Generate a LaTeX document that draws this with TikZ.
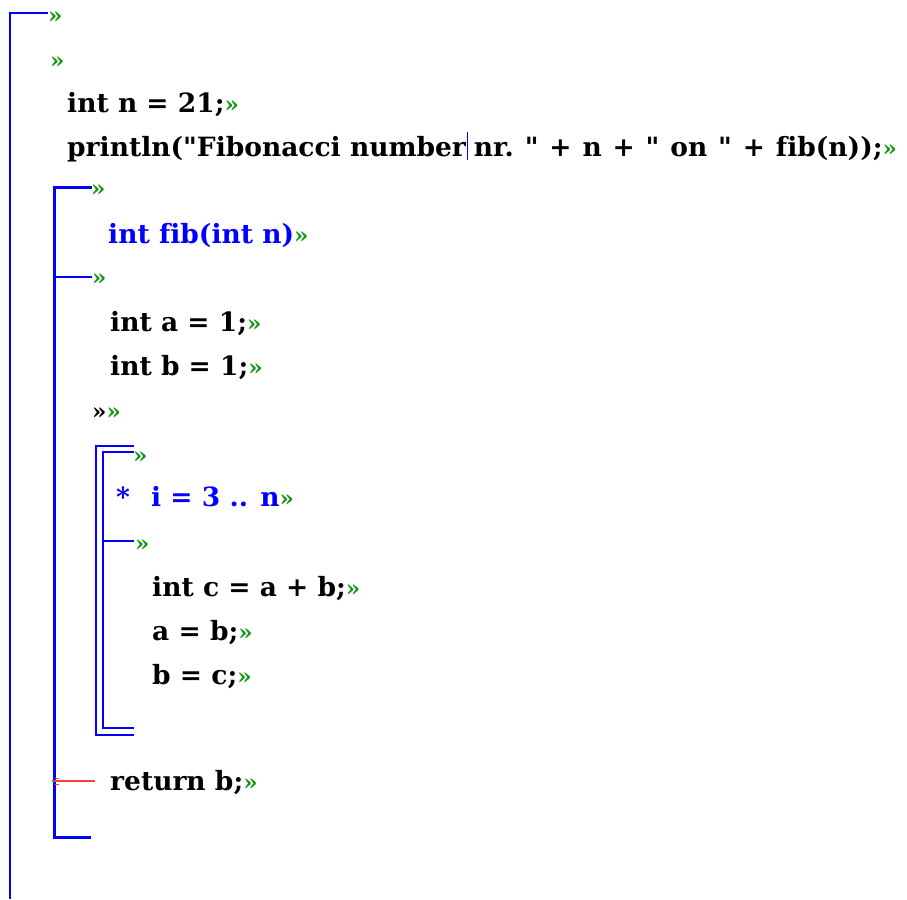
\documentclass[tikz,border=0pt]{standalone}
\usepackage{fontspec}
\setmainfont{DejaVu Serif}[Ligatures={TeXOff,NoCommon}]
\definecolor{codegreen}{RGB}{20,150,20}
\definecolor{codeblue}{RGB}{0,0,255}
\definecolor{codered}{RGB}{255,60,60}
\newcommand\grn{{\color{codegreen}\fontsize{23}{23}\selectfont\bfseries »}}
\newcommand\blk{{\color{black}\fontsize{23}{23}\selectfont\bfseries »}}
\begin{document}
\begin{tikzpicture}[x=1pt,y=-1pt,
  code/.style={anchor=base west,inner sep=0pt,font=\fontsize{26.5}{30}\selectfont\bfseries},
  gmark/.style={anchor=base west,inner sep=0pt},
  thinb/.style={draw=codeblue,line width=2pt},
  thickb/.style={draw=codeblue,line width=3pt},
  loopb/.style={draw=codeblue,line width=1.5pt}]
\useasboundingbox[fill=white] (0,0) rectangle (907,899);
% outer block
\coordinate (o1) at (48,13);
\coordinate (o2) at (10,13);
\coordinate (o3) at (10,899);
\draw[thinb] (o1) -- (o2) -- (o3);
\node[gmark] (m1) at (48,24) {\grn};
\node[gmark] (m2) at (50,68) {\grn};
\node[code] (l1) at (67,112) {int n = 21;\grn};
\node[code] (l2) at (67,156) {println("Fibonacci number\hspace{0.3em}{\spaceskip=0.41em nr.~" + n + " on " + fib(n));}\grn};
% function block
\coordinate (f1) at (92,187);
\coordinate (f2) at (54,187);
\coordinate (f3) at (54,837);
\coordinate (f4) at (91,837);
\draw[thickb] (f1) -- (f2) -- (f3) -- (f4);
\coordinate (fm1) at (54,277);
\coordinate (fm2) at (92,277);
\draw[loopb] (fm1) -- (fm2);
\node[gmark] (m3) at (91,196) {\grn};
\node[code,text=codeblue] (l3) at (108,243) {int fib(int n)\grn};
\node[gmark] (m4) at (92,285) {\grn};
\node[code] (l4) at (110,331) {int a = 1;\grn};
\node[code] (l5) at (110,375) {int b = 1;\grn};
\node[gmark] (m5) at (92,419) {\blk\grn};
% loop block
\coordinate (a1) at (134,446);
\coordinate (a2) at (96,446);
\coordinate (a3) at (96,735);
\coordinate (a4) at (134,735);
\draw[loopb] (a1) -- (a2) -- (a3) -- (a4);
\coordinate (b1) at (134,452);
\coordinate (b2) at (103,452);
\coordinate (b3) at (103,728);
\coordinate (b4) at (134,728);
\draw[loopb] (b1) -- (b2) -- (b3) -- (b4);
\coordinate (bm1) at (103,541);
\coordinate (bm2) at (134,541);
\draw[loopb] (bm1) -- (bm2);
\node[gmark] (m6) at (133,463) {\grn};
\node[code,text=codeblue] (star) at (116,506) {*};
\node[code,text=codeblue] (l6) at (151,506) {i = 3 .. n\grn};
\node[gmark] (m7) at (135,551) {\grn};
\node[code] (l7) at (152,596) {int c = a + b;\grn};
\node[code] (l8) at (152,640) {a = b;\grn};
\node[code] (l9) at (152,684) {b = c;\grn};
% return
\coordinate (r1) at (52,781);
\coordinate (r2) at (95,781);
\draw[draw=codered,line width=1.2pt] (r1) -- (r2);
\draw[draw=codered,line width=1pt] (55,778.5) -- (59,778.5) (55,784) -- (59,784);
\fill[green!80!black] (r1) ++(1,0) circle (1.6);
\node[code] (l10) at (110,790) {return b;\grn};
% cursor
\coordinate (c1) at (467,132);
\coordinate (c2) at (467,160);
\draw[draw=codeblue,line width=1pt] (c1) -- (c2);
\end{tikzpicture}
\end{document}
